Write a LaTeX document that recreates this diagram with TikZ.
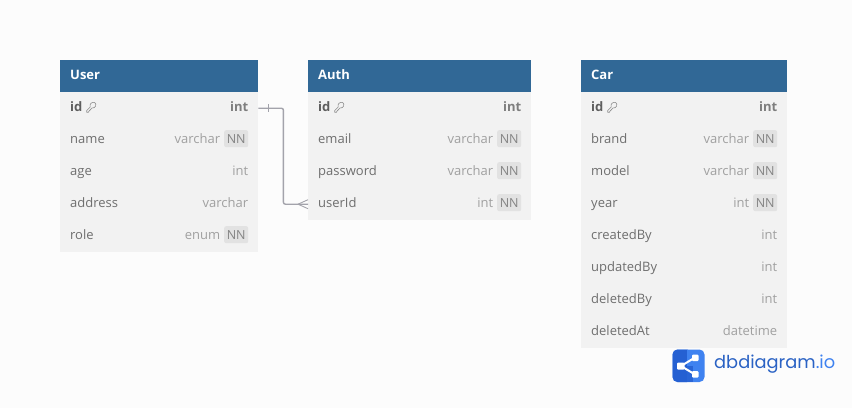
\documentclass[tikz,border=0pt]{standalone}
\usepackage{fontspec}
\setmainfont{Open Sans}
\newfontfamily\logofont{Poppins}
\definecolor{pagebg}{HTML}{FCFCFC}
\definecolor{headblue}{HTML}{316896}
\definecolor{rowbg}{HTML}{F2F2F2}
\definecolor{namecol}{HTML}{6E6E6E}
\definecolor{typecol}{HTML}{A0A0A0}
\definecolor{boldname}{HTML}{5E5E5E}
\definecolor{boldtype}{HTML}{7E7E7E}
\definecolor{badgebg}{HTML}{E2E2E2}
\definecolor{linkcol}{HTML}{A3A3AB}
\definecolor{logodark}{HTML}{2560D2}
\definecolor{logolight}{HTML}{3F82F0}
\definecolor{logotext}{HTML}{2A62C4}
\usetikzlibrary{calc}
\tikzset{
  x=1pt,y=-1pt,
  rowbox/.style={anchor=north west,fill=rowbg,inner sep=0pt,minimum height=32pt,text width=0pt},
  headbox/.style={anchor=north west,fill=headblue,inner sep=0pt,minimum height=32pt},
  headtext/.style={anchor=mid west,text=white,font=\fontsize{13}{13}\selectfont\bfseries,inner sep=0pt},
  fieldtext/.style={anchor=mid west,text=namecol,font=\fontsize{13}{13}\selectfont,inner sep=0pt},
  typetext/.style={anchor=mid east,text=typecol,font=\fontsize{13}{13}\selectfont,inner sep=0pt},
  pkfield/.style={fieldtext,text=boldname,font=\fontsize{13}{13}\selectfont\bfseries},
  pktype/.style={typetext,text=boldtype,font=\fontsize{13}{13}\selectfont\bfseries},
  badge/.style={anchor=east,fill=badgebg,text=namecol!85,rounded corners=2pt,inner sep=0pt,minimum width=24pt,minimum height=17pt,font=\fontsize{12.5}{12.5}\selectfont},
  link/.style={draw=linkcol,line width=1.4pt,rounded corners=2pt},
  linkthin/.style={draw=linkcol,line width=0.9pt},
  keyicon/.style={draw=namecol!80,line width=0.6pt,line cap=round,line join=round},
}
\newcommand{\dbhead}[5]{%
  \node[headbox,minimum width=#4pt] (#1) at (#2,#3) {};
  \node[headtext] (#1-t) at ($(#1.west)+(10,1)$) {#5};
}
\newcommand{\dbrow}[6]{%
  \node[rowbox,minimum width=#4pt] (#1) at (#2,#3) {};
  \node[fieldtext] (#1-n) at ($(#1.west)+(10,1)$) {#5};
  \node[typetext] (#1-y) at ($(#1.east)+(-10,1)$) {#6};
}
\newcommand{\dbrownn}[6]{%
  \node[rowbox,minimum width=#4pt] (#1) at (#2,#3) {};
  \node[fieldtext] (#1-n) at ($(#1.west)+(10,1)$) {#5};
  \node[badge] (#1-b) at ($(#1.east)+(-10,-1.5)$) {NN};
  \node[typetext] (#1-y) at ($(#1.east)+(-38,1)$) {#6};
}
\newcommand{\dbpk}[4]{%
  \node[rowbox,minimum width=#4pt] (#1) at (#2,#3) {};
  \node[pkfield] (#1-n) at ($(#1.west)+(10,1)$) {id};
  \node[pktype] (#1-y) at ($(#1.east)+(-10,1)$) {int};
  \begin{scope}[shift={($(#1.west)+(26,-1)$)},keyicon]
    \draw (0.7,5) -- (0.7,3.4) -- (4.2,-0.2) .. controls (3,-3.5) and (6.5,-5.8) .. (8.8,-4.6)
      .. controls (11,-3) and (9.5,1.4) .. (6,0.8) -- (2.6,4.4) -- (2.4,5.2) -- cycle;
  \end{scope}
}
\begin{document}
\begin{tikzpicture}
\path[use as bounding box,fill=pagebg] (0,0) rectangle (852,408);

% User
\dbhead{user}{60}{60}{198}{User}
\dbpk{user1}{60}{92}{198}
\dbrownn{user2}{60}{124}{198}{name}{varchar}
\dbrow{user3}{60}{156}{198}{age}{int}
\dbrow{user4}{60}{188}{198}{address}{varchar}
\dbrownn{user5}{60}{220}{198}{role}{enum}

% Auth
\dbhead{auth}{308}{60}{223}{Auth}
\dbpk{auth1}{308}{92}{223}
\dbrownn{auth2}{308}{124}{223}{email}{varchar}
\dbrownn{auth3}{308}{156}{223}{password}{varchar}
\dbrownn{auth4}{308}{188}{223}{userId}{int}

% Car
\dbhead{car}{581}{60}{206}{Car}
\dbpk{car1}{581}{92}{206}
\dbrownn{car2}{581}{124}{206}{brand}{varchar}
\dbrownn{car3}{581}{156}{206}{model}{varchar}
\dbrownn{car4}{581}{188}{206}{year}{int}
\dbrow{car5}{581}{220}{206}{createdBy}{int}
\dbrow{car6}{581}{252}{206}{updatedBy}{int}
\dbrow{car7}{581}{284}{206}{deletedBy}{int}
\dbrow{car8}{581}{316}{206}{deletedAt}{datetime}

% Relation
\draw[link] (user1.east) -- ($(user1.east)+(25,0)$) |- (auth4.west);
\draw[linkthin] ($(user1.east)+(10,-4)$) -- ($(user1.east)+(10,4)$);
\draw[linkthin] ($(auth4.west)+(-10,0)$) -- ($(auth4.west)+(0,-4.5)$);
\draw[linkthin] ($(auth4.west)+(-10,0)$) -- ($(auth4.west)+(0,4.5)$);

% Logo
\begin{scope}
  \fill[logolight,rounded corners=5pt] (672.5,349.5) rectangle (704.5,382);
  \fill[logodark,rounded corners=5pt] (672.5,349.5) rectangle (692,382);
  \fill[logodark] (686,349.5) rectangle (687.5,382);
  \fill[logolight] (687,349.5) rectangle (692.5,365.5);
  \fill[logodark!85!logolight] (687,365.5) rectangle (692.5,382);
  \draw[white,line width=2pt] (681,366) -- (695,357.5);
  \draw[white,line width=2pt] (681,366) -- (695,374.5);
  \fill[white,rounded corners=1pt] (677,362.5) rectangle (684.5,369.5);
  \fill[white,rounded corners=1pt] (692,354.5) rectangle (698.5,361);
  \fill[white,rounded corners=1pt] (692,371) rectangle (698.5,377.5);
\end{scope}
\node[anchor=mid west,inner sep=0pt,text=logotext,font=\logofont\fontsize{17.8}{18}\selectfont] (logo) at (714,366) {dbdiagram\textcolor{logolight}{.io}};
\end{tikzpicture}
\end{document}
